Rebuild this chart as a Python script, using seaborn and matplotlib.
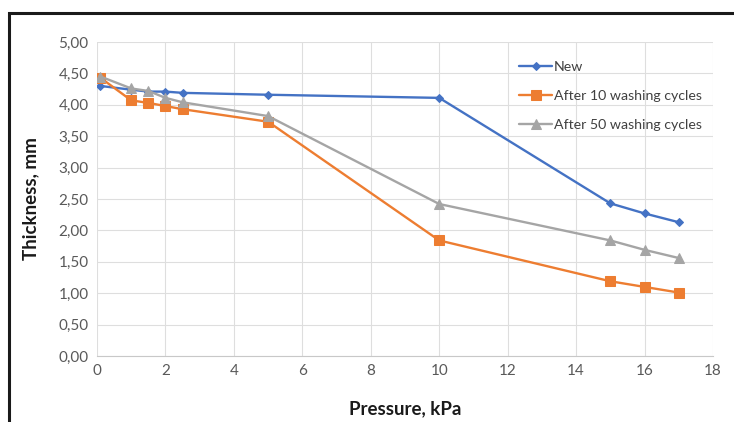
import matplotlib
matplotlib.use("Agg")
import matplotlib.pyplot as plt
import seaborn as sns
import pandas as pd
from matplotlib.patches import Rectangle
from matplotlib.ticker import FuncFormatter, MultipleLocator

# Data
pressure = [0.1, 1, 1.5, 2, 2.5, 5, 10, 15, 16, 17]
new = [4.30, 4.24, 4.21, 4.21, 4.19, 4.16, 4.11, 2.43, 2.27, 2.13]
after10 = [4.43, 4.07, 4.03, 3.98, 3.93, 3.73, 1.84, 1.19, 1.10, 1.01]
after50 = [4.45, 4.26, 4.22, 4.11, 4.04, 3.82, 2.42, 1.84, 1.69, 1.56]
series_names = ["New", "After 10 washing cycles", "After 50 washing cycles"]
x_ticks = [0, 2, 4, 6, 8, 10, 12, 14, 16, 18]

sns.set_theme(style="white")
plt.rcParams['font.family'] = ['Lato', 'DejaVu Sans']

fig = plt.figure(figsize=(7.34, 4.22), dpi=100)
ax = fig.add_axes([0.1322, 0.1564, 0.8392, 0.7441])

colors = ["#4472C4", "#ED7D31", "#A5A5A5"]
markers = ["D", "s", "^"]
msizes = [4.5, 6.5, 6.5]
for vals, name, c, m, ms in zip([new, after10, after50], series_names, colors, markers, msizes):
    df = pd.DataFrame({"Pressure": pressure, "Thickness": vals})
    sns.lineplot(data=df, x="Pressure", y="Thickness", ax=ax, color=c, marker=m,
                 markersize=ms, markeredgecolor=c, linewidth=1.7, label=name,
                 sort=False)

ax.set_xlim(0, 18)
ax.set_ylim(0, 5)
ax.set_xticks(x_ticks)
ax.yaxis.set_major_locator(MultipleLocator(0.5))
ax.yaxis.set_major_formatter(FuncFormatter(lambda v, p: f"{v:.2f}".replace(".", ",")))
ax.grid(True, color="#DEDEDE", linewidth=0.8)
ax.set_axisbelow(True)
for s in ["top", "right", "left"]:
    ax.spines[s].set_visible(False)
ax.spines["bottom"].set_color("#C8C8C8")
ax.spines["bottom"].set_linewidth(0.8)
ax.tick_params(axis="both", labelsize=11, colors="#595959", length=0, pad=6)

ax.set_xlabel("Pressure, kPa", fontsize=13.5, fontweight="bold", color="#1a1a1a", labelpad=16)
ax.set_ylabel("Thickness, mm", fontsize=13.5, fontweight="bold", color="#1a1a1a", labelpad=14)

leg = ax.legend(loc="upper left", bbox_to_anchor=(0.665, 0.98), frameon=False,
                fontsize=10.2, handlelength=2.3, labelspacing=1.2, handletextpad=0.15)
for t in leg.get_texts():
    t.set_color("#404040")

# outer dark frame (cropped at right and bottom)
rect = Rectangle((9/734, -0.05), 1.2, 0.969 + 0.05, transform=fig.transFigure,
                 fill=False, edgecolor="#1a1a1a", linewidth=2.2, clip_on=False)
fig.patches.append(rect)

fig.savefig("out.png", dpi=100)
